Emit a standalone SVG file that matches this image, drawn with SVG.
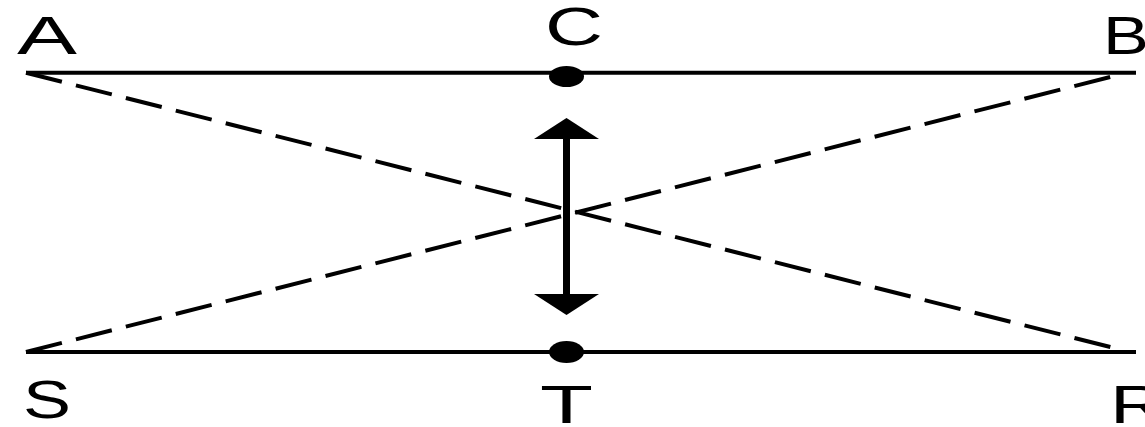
<svg xmlns="http://www.w3.org/2000/svg" width="1145" height="427" viewBox="0 0 1145 427">
<style>
.lbl{font-family:"Liberation Sans",Arial,sans-serif;font-size:54px;fill:#000}
.solid{stroke:#000;stroke-width:4;fill:none}
.dash{stroke:#000;stroke-width:4;fill:none;stroke-dasharray:37 14.5}
.dot{fill:#000}
</style>
<rect width="1145" height="427" fill="#fff"/>
<g id="connectors">
<line class="solid" x1="26" y1="72.7" x2="1136" y2="72.7"/>
<line class="solid" x1="26" y1="352" x2="1136" y2="352"/>
<line class="dash" x1="26" y1="72.7" x2="1122" y2="350"/>
<line class="dash" x1="26" y1="352" x2="1122" y2="74"/>
<g id="arrow-CT">
<rect x="563" y="138" width="7" height="157" fill="#000"/>
<polygon points="566.5,118 534,139 599,139" fill="#000"/>
<polygon points="534,294 599,294 566.5,315" fill="#000"/>
</g>
</g>
<g id="A"><text class="lbl" x="17" y="54" textLength="60" lengthAdjust="spacingAndGlyphs">A</text></g>
<g id="C"><ellipse class="dot" cx="566.5" cy="76.5" rx="17.5" ry="10.5"/><text class="lbl" x="545" y="45" textLength="58" lengthAdjust="spacingAndGlyphs">C</text></g>
<g id="B"><text class="lbl" x="1103" y="54" textLength="46" lengthAdjust="spacingAndGlyphs">B</text></g>
<g id="S"><text class="lbl" x="23" y="418" textLength="48" lengthAdjust="spacingAndGlyphs">S</text></g>
<g id="T"><ellipse class="dot" cx="566.5" cy="352" rx="17.5" ry="11"/><text class="lbl" x="540" y="423" textLength="53" lengthAdjust="spacingAndGlyphs">T</text></g>
<g id="R"><text class="lbl" x="1110" y="423" textLength="56" lengthAdjust="spacingAndGlyphs">R</text></g>
</svg>
